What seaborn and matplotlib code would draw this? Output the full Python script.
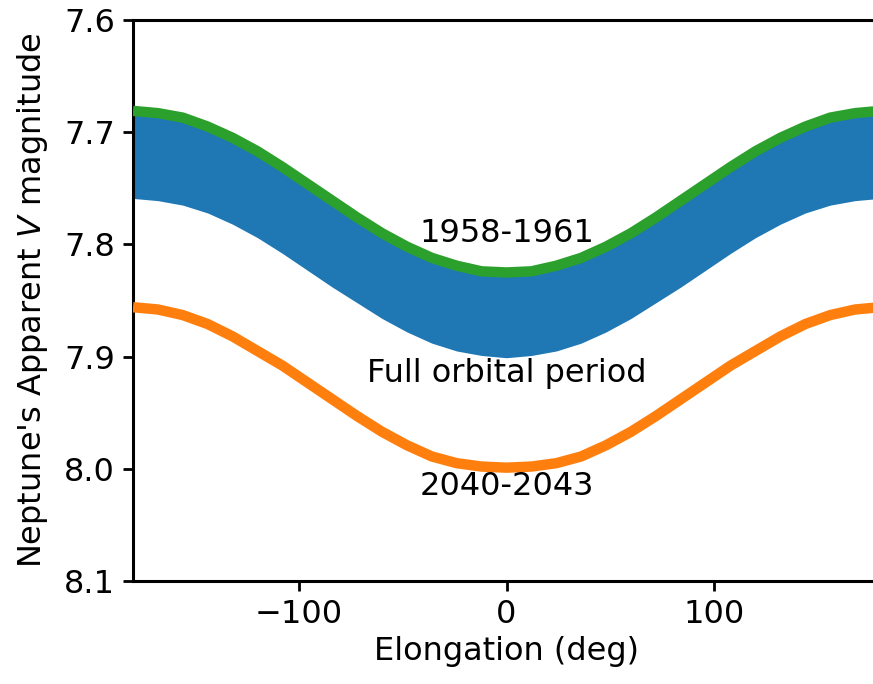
import numpy as np
import pandas as pd
import matplotlib
matplotlib.use("Agg")
import matplotlib.pyplot as plt
import seaborn as sns

# Elongation grid (deg)
elong = [-180, -168, -156, -144, -132, -120, -108, -96, -84, -72, -60, -48, -36, -24, -12, 0,
         12, 24, 36, 48, 60, 72, 84, 96, 108, 120, 132, 144, 156, 168, 180]

# 1958-1961 curve (green) - also the bright edge of the full-period band
half_green = [7.681, 7.683, 7.687, 7.695, 7.705, 7.717, 7.731, 7.746, 7.761, 7.776,
              7.790, 7.802, 7.812, 7.819, 7.824]
mag_1958 = half_green + [7.825] + half_green[::-1]

# Faint edge of the full orbital period band (blue)
half_band_low = [7.759, 7.761, 7.765, 7.772, 7.782, 7.794, 7.808, 7.823, 7.838, 7.852,
                 7.866, 7.878, 7.888, 7.895, 7.899]
band_low = half_band_low + [7.901] + half_band_low[::-1]
band_high = [m + 0.003 for m in mag_1958]

# 2040-2043 curve (orange)
half_orange = [7.856, 7.858, 7.863, 7.871, 7.882, 7.895, 7.908, 7.923, 7.938, 7.953,
               7.967, 7.979, 7.989, 7.995, 7.998]
mag_2040 = half_orange + [7.999] + half_orange[::-1]

labels = ["1958-1961", "Full orbital period", "2040-2043"]
label_x = [0, 0, 0]
label_y = [7.790, 7.915, 8.016]

sns.set_theme(style="ticks")
plt.rcParams["font.family"] = ["DejaVu Sans"]
plt.rcParams["axes.linewidth"] = 2.2
plt.rcParams["xtick.major.width"] = 2.0
plt.rcParams["ytick.major.width"] = 2.0
plt.rcParams["xtick.major.size"] = 7
plt.rcParams["ytick.major.size"] = 7

fig = plt.figure(figsize=(8.73, 6.84), dpi=100)
ax = fig.add_axes([133 / 873, 1 - 581 / 684, (880 - 133) / 873, (581 - 20) / 684])

blue = "#1f77b4"
green = "#2ca02c"
orange = "#ff7f0e"

ax.fill_between(elong, band_high, band_low, color=blue, linewidth=0, zorder=1)

df = pd.DataFrame({"elong": elong, "m1958": mag_1958, "m2040": mag_2040})
sns.lineplot(data=df, x="elong", y="m1958", color=green, linewidth=7.5, ax=ax,
             sort=False, zorder=3, solid_joinstyle="round", solid_capstyle="butt")
sns.lineplot(data=df, x="elong", y="m2040", color=orange, linewidth=7.5, ax=ax,
             sort=False, zorder=3, solid_joinstyle="round", solid_capstyle="butt")

FS = 23
for t, x, y in zip(labels, label_x, label_y):
    ax.text(x, y, t, ha="center", va="center", fontsize=FS, color="black", zorder=4)

ax.set_xlim(-180, 180)
ax.set_ylim(8.1, 7.6)
ax.set_xticks([-100, 0, 100])
ax.set_xticklabels(["\u2212100", "0", "100"])
ax.set_yticks([7.6, 7.7, 7.8, 7.9, 8.0, 8.1])
ax.set_yticklabels(["7.6", "7.7", "7.8", "7.9", "8.0", "8.1"])
ax.tick_params(labelsize=FS, colors="black", pad=6)
ax.set_xlabel("Elongation (deg)", fontsize=FS, color="black", labelpad=4)
ax.set_ylabel("Neptune's Apparent $V$ magnitude", fontsize=FS, color="black", labelpad=10)
for s in ax.spines.values():
    s.set_color("black")

fig.savefig("out.png", dpi=100)
